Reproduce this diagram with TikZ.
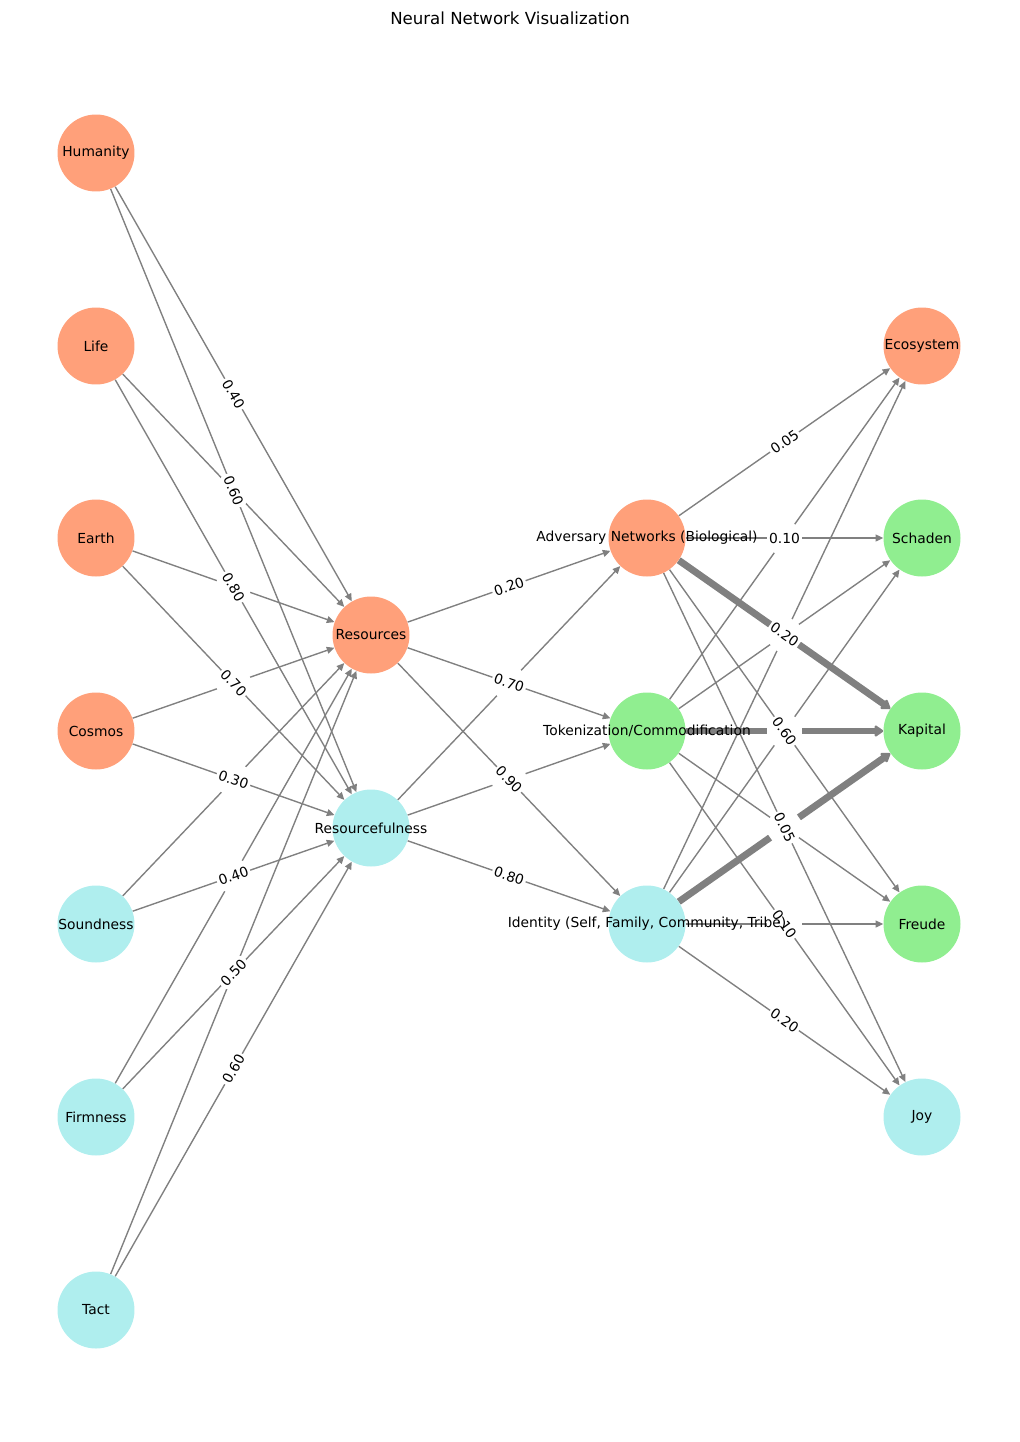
\documentclass[tikz,border=0pt]{standalone}
\usepackage{fontspec}
\setmainfont{DejaVu Sans}
\usetikzlibrary{arrows.meta,backgrounds}

\definecolor{salmon}{HTML}{FFA07A}
\definecolor{turq}{HTML}{AFEEEE}
\definecolor{lgreen}{HTML}{90EE90}
\definecolor{edgegray}{HTML}{808080}

\begin{document}
\begin{tikzpicture}[x=0.0254cm, y=-0.0254cm, font=\fontsize{10}{12}\selectfont,
  neuron/.style={circle, minimum size=1.956cm, inner sep=0pt},
  edge/.style={draw=edgegray, line width=1pt, -{Triangle[length=5.5pt, width=5pt]}},
  heavy/.style={draw=edgegray, line width=5pt, -{Triangle[length=7pt, width=9pt, round]}},
  elabel/.style={fill=white, rounded corners=2pt, inner sep=1.5pt, midway, sloped}]
  \useasboundingbox (0,0) rectangle (1019,1442);

  % Title
  \node (title) at (510,18) {\fontsize{12}{14}\selectfont Neural Network Visualization};

  % Input layer
  \foreach \name/\y/\txt/\col in {hum/153/Humanity/salmon, life/346/Life/salmon,
      earth/538/Earth/salmon, cosmos/731/Cosmos/salmon, sound/924/Soundness/turq,
      firm/1117/Firmness/turq, tact/1310/Tact/turq} {
    \node[neuron, fill=\col, label={center:\txt}] (\name) at (96,\y) {};
  }

  % Hidden layers
  \node[neuron, fill=salmon, label={center:Resources}] (res) at (371,635) {};
  \node[neuron, fill=turq, label={center:Resourcefulness}] (resf) at (371,828) {};
  \node[neuron, fill=salmon, label={center:{Adversary Networks (Biological)}}] (adv) at (647,538) {};
  \node[neuron, fill=lgreen, label={center:{Tokenization/Commodification}}] (tok) at (647,731) {};
  \node[neuron, fill=turq, label={center:{Identity (Self, Family, Community, Tribe)}}] (ident) at (647,924) {};

  % Output layer
  \foreach \name/\y/\txt/\col in {eco/346/Ecosystem/salmon, schad/538/Schaden/lgreen,
      kap/731/Kapital/lgreen, freu/924/Freude/lgreen, joy/1117/Joy/turq} {
    \node[neuron, fill=\col, label={center:\txt}] (\name) at (922,\y) {};
  }

  \begin{scope}[on background layer]
    % Edges
    \foreach \src in {hum,life,earth,cosmos,sound,firm,tact}
      \foreach \dst in {res,resf}
        \draw[edge] (\src) -- (\dst);
    \foreach \src in {res,resf}
      \foreach \dst in {adv,tok,ident}
        \draw[edge] (\src) -- (\dst);
    \foreach \src in {adv,tok,ident} {
      \foreach \dst in {eco,schad,freu,joy}
        \draw[edge] (\src) -- (\dst);
      \draw[heavy] (\src) -- (kap);
    }

    % Covered weight boxes
    \foreach \a/\b in {life/res, earth/res, cosmos/res, sound/res, firm/res, tact/res,
        resf/adv, resf/tok, tok/eco, tok/schad, ident/eco, tok/kap, ident/schad,
        tok/freu, ident/kap, ident/freu}
      \path (\a) -- (\b) node[elabel] {\phantom{0.00}};

    % Weights
    \foreach \a/\b/\w in {hum/res/0.40, hum/resf/0.60, life/resf/0.80, earth/resf/0.70,
        cosmos/resf/0.30, sound/resf/0.40, firm/resf/0.50, tact/resf/0.60,
        res/adv/0.20, res/tok/0.70, res/ident/0.90, resf/ident/0.80,
        adv/eco/0.05, adv/schad/0.10, adv/kap/0.20, adv/freu/0.60, adv/joy/0.05,
        tok/joy/0.10, ident/joy/0.20}
      \path (\a) -- (\b) node[elabel] {\w};
  \end{scope}
\end{tikzpicture}
\end{document}
